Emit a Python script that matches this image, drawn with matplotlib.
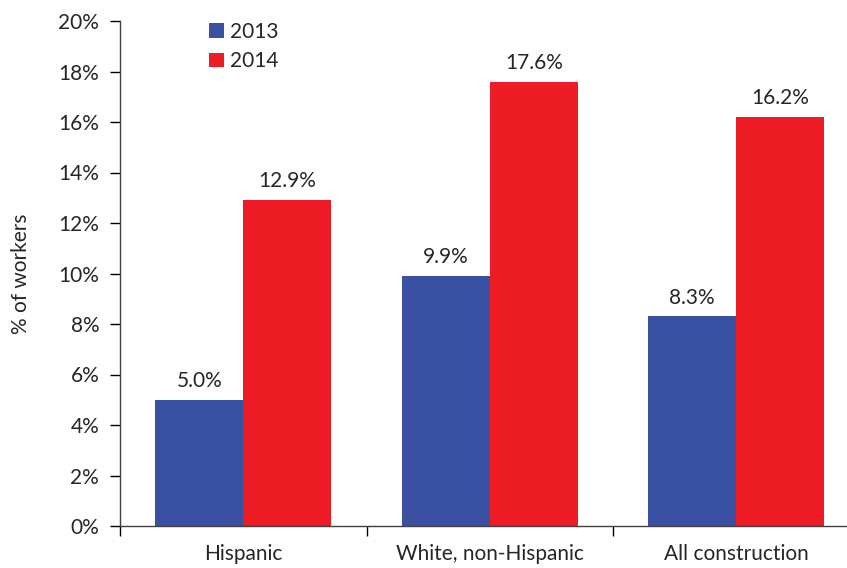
import matplotlib.pyplot as plt
from matplotlib.ticker import FixedLocator

categories = ["Hispanic", "White, non-Hispanic", "All construction"]
years = ["2013", "2014"]
values_2013 = [5.0, 9.9, 8.3]
values_2014 = [12.9, 17.6, 16.2]
y_ticks = [0, 2, 4, 6, 8, 10, 12, 14, 16, 18, 20]

blue = "#3A50A2"
red = "#EE1C25"
txt = "#262626"
fs = 15

plt.rcParams["font.family"] = ["Lato", "DejaVu Sans"]

fig = plt.figure(figsize=(8.47, 5.68), dpi=100)
ax = fig.add_axes([120 / 847, 42 / 568, 739.5 / 847, 505 / 568])

w = 0.357
x = list(range(len(categories)))
b1 = ax.bar([i - w / 2 for i in x], values_2013, width=w, color=blue, label=years[0])
b2 = ax.bar([i + w / 2 for i in x], values_2014, width=w, color=red, label=years[1])

for bars, vals in ((b1, values_2013), (b2, values_2014)):
    for r, v in zip(bars, vals):
        ax.text(r.get_x() + r.get_width() / 2, v + 0.35, f"{v:.1f}%",
                ha="center", va="bottom", fontsize=fs, color=txt)

ax.set_xlim(-0.5, len(categories) - 0.5)
ax.set_ylim(0, 20)
ax.set_yticks(y_ticks)
ax.set_yticklabels([f"{t}%" for t in y_ticks])
ax.tick_params(axis="y", direction="out", length=7, width=1, labelsize=fs,
               labelcolor=txt, pad=8)

# category boundaries as major ticks, labels on minor ticks
ax.xaxis.set_major_locator(FixedLocator([-0.5, 0.5, 1.5, 2.5]))
ax.set_xticklabels([])
ax.set_xticks(x, minor=True)
ax.set_xticklabels(categories, minor=True)
ax.tick_params(axis="x", which="major", direction="out", length=7, width=1)
ax.tick_params(axis="x", which="minor", length=0, labelsize=fs,
               labelcolor=txt, pad=13)

for s in ("top", "right"):
    ax.spines[s].set_visible(False)
for s in ("left", "bottom"):
    ax.spines[s].set_color("#404040")
    ax.spines[s].set_linewidth(1)

ax.set_ylabel("% of workers", fontsize=fs, color=txt, labelpad=20)

ax.legend(loc="upper left", bbox_to_anchor=(0.095, 1.035), frameon=False,
          fontsize=fs, handlelength=0.7, handleheight=0.7, handletextpad=0.3,
          labelspacing=0.45, labelcolor=txt)

fig.savefig("out.png", dpi=100)
